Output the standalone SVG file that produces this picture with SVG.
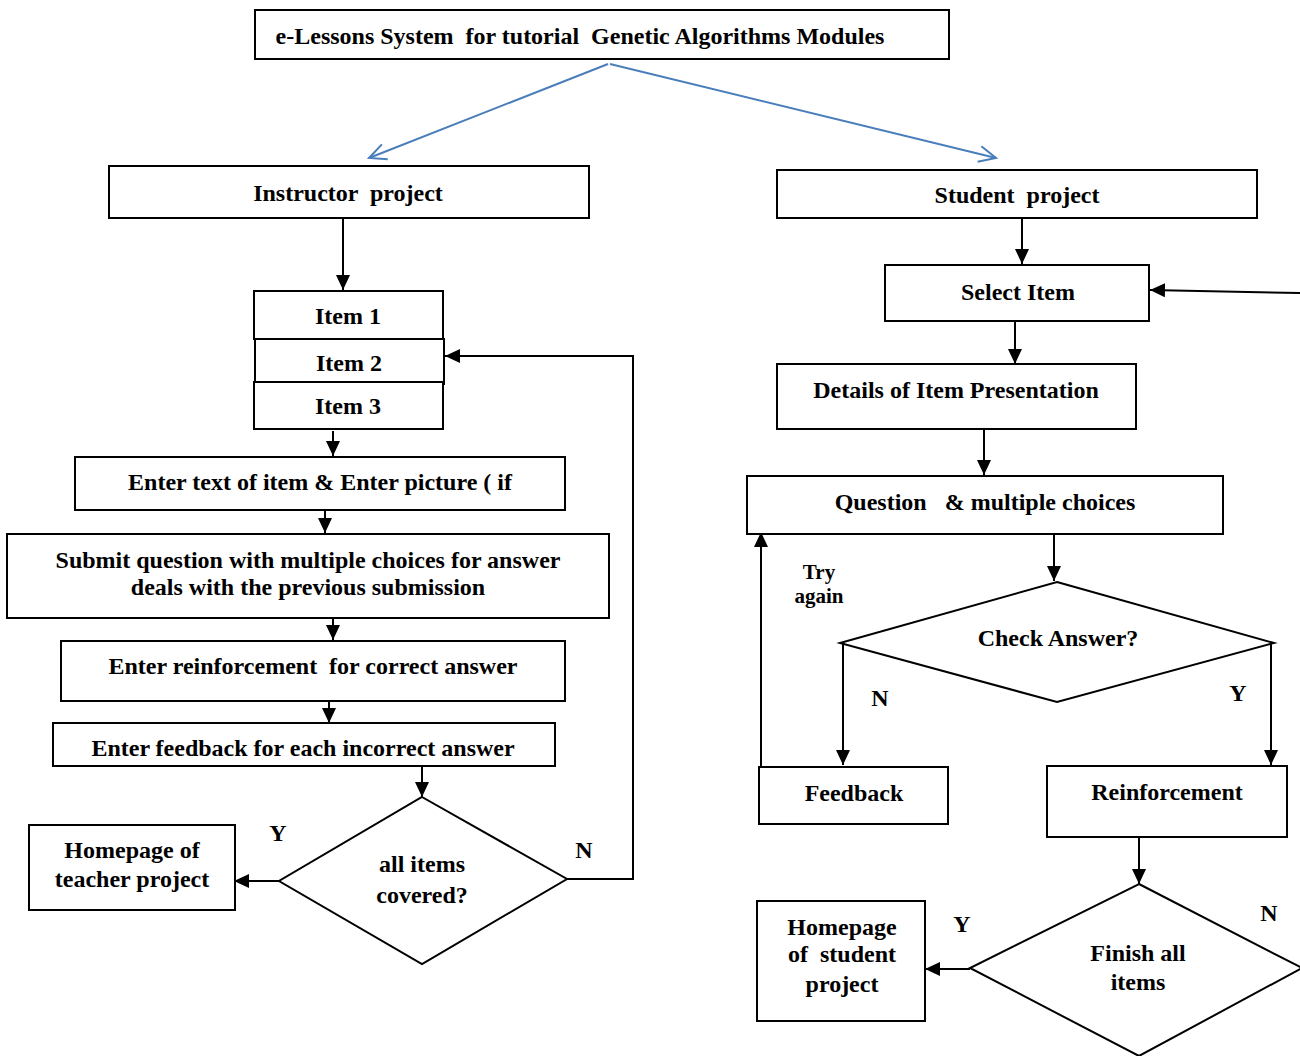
<svg xmlns="http://www.w3.org/2000/svg" width="1300" height="1056" viewBox="0 0 1300 1056">
<style>
.b{fill:#fff;stroke:#000;stroke-width:2}
.t{font-family:"Liberation Serif","Times New Roman",serif;font-weight:bold;font-size:24px;fill:#000;text-anchor:middle;white-space:pre}
.c{fill:none;stroke:#000;stroke-width:2}
.bl{fill:none;stroke:#4a7ebb;stroke-width:2}
</style>
<defs>
<marker id="a" markerUnits="userSpaceOnUse" markerWidth="16" markerHeight="14" refX="15" refY="7" orient="auto"><path d="M0,0 L15,7 L0,14 Z" fill="#000"/></marker>
<marker id="o" markerUnits="userSpaceOnUse" markerWidth="22" markerHeight="22" refX="19" refY="11" orient="auto"><path d="M2,3 L19,11 L2,19" fill="none" stroke="#4a7ebb" stroke-width="2"/></marker>
</defs>
<rect width="1300" height="1056" fill="#fff"/>
<g id="connectors">
<line class="bl" x1="608" y1="64" x2="369" y2="158" marker-end="url(#o)"/>
<line class="bl" x1="610" y1="64" x2="996" y2="158" marker-end="url(#o)"/>
<line class="c" x1="343" y1="218" x2="343" y2="290" marker-end="url(#a)"/>
<polyline class="c" points="567,879 633,879 633,356 445,356" marker-end="url(#a)"/>
<line class="c" x1="333" y1="431" x2="333" y2="456" marker-end="url(#a)"/>
<line class="c" x1="325" y1="511" x2="325" y2="533" marker-end="url(#a)"/>
<line class="c" x1="333" y1="618" x2="333" y2="640" marker-end="url(#a)"/>
<line class="c" x1="329" y1="701" x2="329" y2="723" marker-end="url(#a)"/>
<line class="c" x1="422" y1="766" x2="422" y2="797" marker-end="url(#a)"/>
<line class="c" x1="279" y1="881" x2="234" y2="881" marker-end="url(#a)"/>
<line class="c" x1="1022" y1="218" x2="1022" y2="264" marker-end="url(#a)"/>
<line class="c" x1="1300" y1="293" x2="1150" y2="290" marker-end="url(#a)"/>
<line class="c" x1="1015" y1="321" x2="1015" y2="364" marker-end="url(#a)"/>
<line class="c" x1="984" y1="429" x2="984" y2="475" marker-end="url(#a)"/>
<line class="c" x1="1054" y1="534" x2="1054" y2="581" marker-end="url(#a)"/>
<polyline class="c" points="843,643 843,765" marker-end="url(#a)"/>
<polyline class="c" points="1271,643 1271,765" marker-end="url(#a)"/>
<line class="c" x1="761" y1="770" x2="761" y2="532" marker-end="url(#a)"/>
<line class="c" x1="1139" y1="837" x2="1139" y2="884" marker-end="url(#a)"/>
<line class="c" x1="970" y1="969" x2="925" y2="969" marker-end="url(#a)"/>
<text class="t" x="278" y="841">Y</text>
<text class="t" x="584" y="858">N</text>
<text class="t" x="880" y="706">N</text>
<text class="t" x="1238" y="701">Y</text>
<text class="t" x="962" y="932">Y</text>
<text class="t" x="1269" y="921">N</text>
<text class="t" x="819" y="579" style="font-size:21px">Try</text>
<text class="t" x="819" y="603" style="font-size:21px">again</text>
</g>
<g id="title"><rect class="b" x="255" y="10" width="694" height="49"/><text class="t" x="580" y="44">e-Lessons System  for tutorial  Genetic Algorithms Modules</text></g>
<g id="instructor"><rect class="b" x="109" y="166" width="480" height="52"/><text class="t" x="348" y="201">Instructor  project</text></g>
<g id="student"><rect class="b" x="777" y="170" width="480" height="48"/><text class="t" x="1017" y="203">Student  project</text></g>
<g id="item1"><rect class="b" x="254" y="291" width="189" height="48"/><text class="t" x="348" y="324">Item 1</text></g>
<g id="item2"><rect class="b" x="255" y="339" width="189" height="45"/><text class="t" x="349" y="371">Item 2</text></g>
<g id="item3"><rect class="b" x="254" y="382" width="189" height="47"/><text class="t" x="348" y="414">Item 3</text></g>
<g id="entertext"><rect class="b" x="75" y="457" width="490" height="53"/><text class="t" x="320" y="490">Enter text of item &amp; Enter picture ( if</text></g>
<g id="submit"><rect class="b" x="7" y="534" width="602" height="84"/><text class="t" x="308" y="568">Submit question with multiple choices for answer</text><text class="t" x="308" y="595">deals with the previous submission</text></g>
<g id="enterreinf"><rect class="b" x="61" y="641" width="504" height="60"/><text class="t" x="313" y="674">Enter reinforcement  for correct answer</text></g>
<g id="enterfeed"><rect class="b" x="53" y="723" width="502" height="43"/><text class="t" x="303" y="756">Enter feedback for each incorrect answer</text></g>
<g id="allitems"><polygon class="b" points="422,797 567,879 422,964 279,881"/><text class="t" x="422" y="872">all items</text><text class="t" x="422" y="903">covered?</text></g>
<g id="hometeacher"><rect class="b" x="29" y="825" width="206" height="85"/><text class="t" x="132" y="858">Homepage of</text><text class="t" x="132" y="887">teacher project</text></g>
<g id="select"><rect class="b" x="885" y="265" width="264" height="56"/><text class="t" x="1018" y="300">Select Item</text></g>
<g id="details"><rect class="b" x="777" y="364" width="359" height="65"/><text class="t" x="956" y="398">Details of Item Presentation</text></g>
<g id="question"><rect class="b" x="747" y="476" width="476" height="58"/><text class="t" x="985" y="510">Question   &amp; multiple choices</text></g>
<g id="check"><polygon class="b" points="1057,582 1274,643 1057,702 840,643"/><text class="t" x="1058" y="646">Check Answer?</text></g>
<g id="feedback"><rect class="b" x="759" y="767" width="189" height="57"/><text class="t" x="854" y="801">Feedback</text></g>
<g id="reinforcement"><rect class="b" x="1047" y="766" width="240" height="71"/><text class="t" x="1167" y="800">Reinforcement</text></g>
<g id="finish"><polygon class="b" points="1139,884 1302,968 1139,1056 970,968"/><text class="t" x="1138" y="961">Finish all</text><text class="t" x="1138" y="990">items</text></g>
<g id="homestudent"><rect class="b" x="757" y="901" width="168" height="120"/><text class="t" x="842" y="935">Homepage</text><text class="t" x="842" y="962">of  student</text><text class="t" x="842" y="992">project</text></g>
</svg>
